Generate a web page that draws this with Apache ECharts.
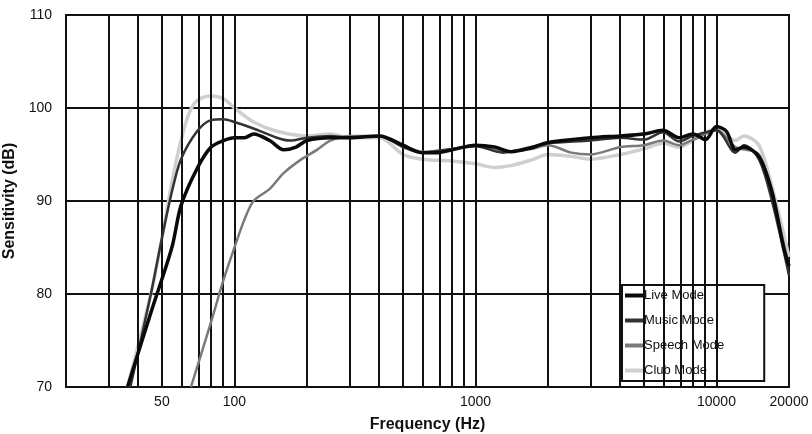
<!DOCTYPE html>
<html><head><meta charset="utf-8">
<script src="https://cdn.jsdelivr.net/npm/echarts@6/dist/echarts.min.js"></script>
<style>html,body{margin:0;background:#fff}#c{width:812px;height:434px}</style>
</head><body><div id="c"></div>
<script>
const gridFreqs=[30,40,50,60,70,80,90,100,200,300,400,500,600,700,800,900,1000,2000,3000,4000,5000,6000,7000,8000,9000,10000];
const tickLabels=[50,100,1000,10000,20000];
const liveMode=[[36,70],[45,78],[55,85],[60,89.5],[70,93.5],[80,95.8],[90,96.5],[100,96.8],[110,96.8],[120,97.2],[140,96.5],[160,95.5],[180,95.8],[200,96.5],[250,96.8],[300,96.8],[400,97],[500,96],[600,95.2],[700,95.2],[800,95.5],[1000,96],[1200,95.8],[1400,95.3],[1700,95.7],[2000,96.3],[3000,96.8],[4000,97],[5000,97.2],[6000,97.6],[7000,96.8],[8000,97.2],[9000,96.6],[10000,98],[11000,97.5],[12000,95.5],[13000,95.8],[15000,94.8],[17000,91],[19000,85],[20000,83]];
const musicMode=[[37,70],[45,80],[50,86],[55,91],[60,94.5],[70,97.5],[80,98.7],[90,98.8],[100,98.5],[120,97.8],[150,96.8],[170,96.5],[200,96.8],[250,97],[300,96.8],[400,97],[500,95.8],[600,95.2],[800,95.6],[1000,95.9],[1300,95.2],[1700,95.8],[2000,96.2],[3000,96.5],[4000,96.8],[5000,96.6],[6000,97.4],[7000,96.4],[8000,97],[10000,97.6],[12000,95.2],[13000,96],[15000,94.5],[17000,90],[20000,82]];
const speechMode=[[66,70],[80,77],[90,81.5],[100,85],[110,88],[120,90],[140,91.3],[160,93],[190,94.5],[220,95.5],[250,96.5],[300,97],[400,97],[500,96],[600,95.3],[800,95.6],[1000,96],[1300,95.3],[1700,95.6],[2000,96],[2500,95.2],[3000,95],[4000,95.8],[5000,96],[6000,96.5],[7000,96],[8000,96.6],[10000,97.6],[12000,95.8],[15000,95],[17000,90.5],[20000,83]];
const clubMode=[[36,70],[45,80],[50,86],[55,92],[60,96.5],[65,99.5],[70,100.8],[80,101.3],[90,101],[100,100],[120,98.5],[150,97.5],[200,97],[250,97.2],[300,96.8],[400,96.8],[500,95],[600,94.5],[800,94.3],[1000,94],[1200,93.6],[1400,93.8],[1700,94.4],[2000,95],[2500,94.8],[3000,94.5],[4000,95],[5000,95.6],[6000,96.2],[7000,95.8],[8000,96.5],[10000,97.8],[12000,96.5],[13000,97],[15000,96],[17000,91.5],[20000,84]];
const L=v=>Math.log10(v);
const tr=a=>a.map(p=>[L(p[0]),p[1]]);
const F='Arial, "Liberation Sans", sans-serif';
function ser(name,data,color,w,z){return {name,type:'line',data:tr(data),smooth:0.3,symbol:'none',z,lineStyle:{color,width:w},itemStyle:{color}};}
const chart=echarts.init(document.getElementById('c'));
chart.setOption({
 animation:false,
 grid:{left:66,right:23,top:15,bottom:47,containLabel:false,outerBoundsMode:'none',show:true,borderColor:'#111',borderWidth:2,backgroundColor:'#fff'},
 xAxis:{type:'value',min:L(20),max:L(20000),name:'Frequency (Hz)',nameLocation:'middle',nameGap:30,
  nameTextStyle:{fontFamily:F,fontWeight:'bold',fontSize:16,color:'#111'},
  axisLine:{show:false},axisTick:{show:false},splitLine:{show:false},
  axisLabel:{customValues:tickLabels.map(L),formatter:v=>String(Math.round(Math.pow(10,v))),fontFamily:F,fontSize:14,color:'#111',margin:8}},
 yAxis:{type:'value',min:70,max:110,interval:10,name:'Sensitivity (dB)',nameLocation:'middle',nameGap:40,
  nameTextStyle:{fontFamily:F,fontWeight:'bold',fontSize:16,color:'#111'},
  axisLine:{show:false},axisTick:{show:false},
  splitLine:{lineStyle:{color:'#111',width:2}},
  axisLabel:{fontFamily:F,fontSize:14,color:'#111',margin:14}},
 legend:{orient:'vertical',left:622,top:285,itemGap:12,padding:[4,40,4,3],
  backgroundColor:'#fff',borderColor:'#111',borderWidth:2,borderRadius:0,
  itemWidth:18,itemHeight:4,icon:'rect',
  textStyle:{fontFamily:F,fontSize:13,color:'#111',padding:[0,0,0,-4]},
  data:['Live Mode','Music Mode','Speech Mode','Club Mode']},
 series:[
  {type:'line',data:[],silent:true,markLine:{silent:true,symbol:'none',label:{show:false},lineStyle:{color:'#111',width:2,type:'solid'},data:gridFreqs.map(f=>({xAxis:L(f)}))}},
  ser('Club Mode',clubMode,'#cfcfcf',3.5,4),
  ser('Speech Mode',speechMode,'#7a7a7a',2.5,5),
  ser('Music Mode',musicMode,'#333333',2.5,6),
  ser('Live Mode',liveMode,'#0a0a0a',3.5,7)
 ]
});
</script></body></html>
